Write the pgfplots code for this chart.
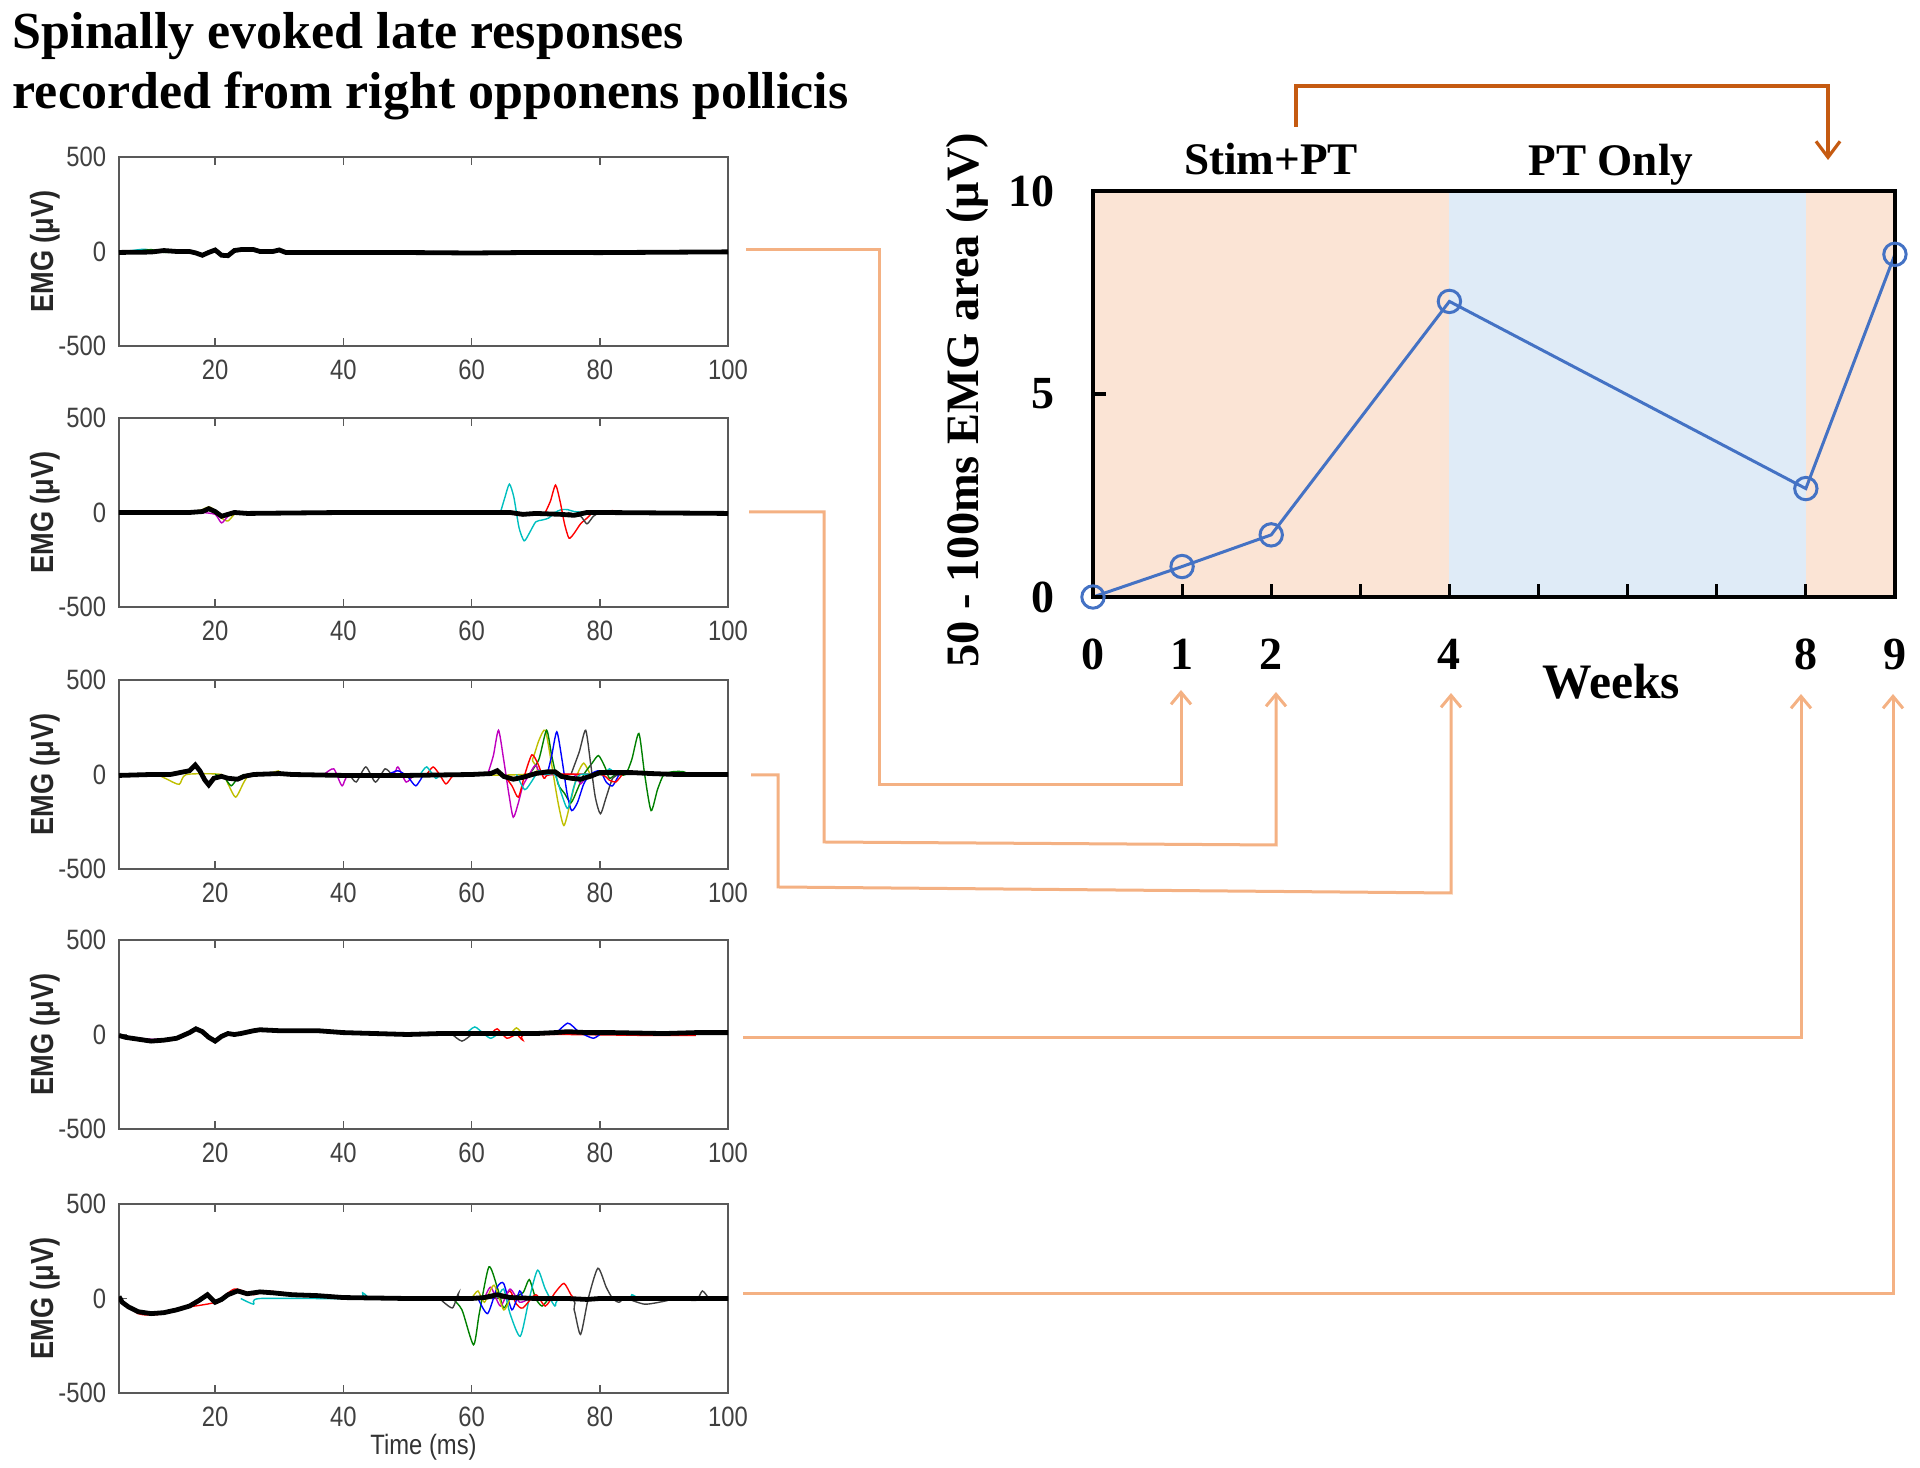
\documentclass[border=0pt]{standalone}
\usepackage{pgfplots}
\pgfplotsset{compat=1.18}
\usepackage{fontspec}
\setmainfont{Liberation Serif}
\newfontfamily\arialf{Liberation Sans}
\newfontfamily\arialn[FakeStretch=0.85]{Liberation Sans}
\usetikzlibrary{arrows.meta}
\definecolor{peach}{HTML}{FBE4D5}
\definecolor{paleblue}{HTML}{DFEBF7}
\definecolor{linkor}{HTML}{F4B183}
\definecolor{darkor}{HTML}{C55A11}
\definecolor{lineblue}{HTML}{4472C4}
\definecolor{mcyan}{rgb}{0,0.75,0.75}
\definecolor{mmag}{rgb}{0.75,0,0.75}
\definecolor{myel}{rgb}{0.75,0.75,0}
\definecolor{mgreen}{rgb}{0,0.5,0}
\definecolor{mgray}{rgb}{0.25,0.25,0.25}
\definecolor{mblue}{rgb}{0,0,1}
\definecolor{mred}{rgb}{1,0,0}
\pgfplotsset{
  emg/.style={
    scale only axis, width=152.25pt, height=47.25pt, anchor=south west,
    xmin=5, xmax=100, ymin=-500, ymax=500,
    xtick={20,40,60,80,100}, xticklabels={20,40,60,80,100},
    ytick={-500,0,500}, yticklabels={-500,0,500},
    tick align=inside, major tick length=2pt,
    ticklabel style={font=\arialn\fontsize{7}{7}\selectfont, text=black!75},
    xticklabel style={yshift=0pt},
    yticklabel style={xshift=0.3pt},
    axis line style={line width=0.5pt, black!65},
    every tick/.style={black!65, line width=0.4pt},
    ylabel={EMG (μV)},
    ylabel style={font=\arialn\bfseries\fontsize{8}{8}\selectfont, text=black!85, at={(rel axis cs:-0.1215,0.5)}, anchor=center},
  },
  tr/.style={line width=0.35pt, no marks, smooth, tension=0.4},
  mean/.style={line width=1.2pt, black, no marks},
}
\begin{document}
\begin{tikzpicture}
\useasboundingbox (0,0) rectangle (480pt,367pt);

% ---------- Panel 1 ----------
\begin{axis}[emg, at={(29.75pt,280.5pt)}]
\addplot[tr, mcyan] coordinates {(5,0)(7,5)(9,12)(11,0)(13,3)};
\addplot[tr, mmag] coordinates {(54,0)(56,-12)(58,0)};
\addplot[tr, mgreen] coordinates {(8,0)(10,10)(12,-5)(14,0)};
\addplot[mean] coordinates {(5,-5)(10,-3)(12,5)(14,0)(16,0)(17,-8)(18,-20)(19,-5)(20,8)(21,-20)(22,-22)(23,5)(24,10)(26,10)(27,0)(29,0)(30,8)(31,-5)(35,-5)(45,-5)(52,-6)(60,-8)(70,-5)(80,-6)(90,-4)(100,-2)};
\end{axis}

% ---------- Panel 2 ----------
\begin{axis}[emg, at={(29.75pt,215.25pt)}]
\addplot[tr, myel] coordinates {(16,0)(18,15)(19,30)(20,10)(21,-30)(22,-45)(23,-10)(24,0)};
\addplot[tr, mmag] coordinates {(18,0)(20,-10)(21,-55)(22,-20)(23,0)};
\addplot[tr, mcyan] coordinates {(64.5,0)(65.2,80)(65.9,150)(66.6,80)(67.4,-80)(68.2,-150)(69,-110)(70,-50)(71,-40)(72,-30)(73,0)(74,15)(75,15)(76,5)(78,0)};
\addplot[tr, mred] coordinates {(71.5,0)(72.3,60)(73.1,145)(73.8,60)(74.5,-60)(75.2,-136)(76,-110)(77,-60)(78,-30)(79,0)(81,5)(82,10)(83,0)};
\addplot[tr, mgray] coordinates {(75,0)(77,-20)(78,-60)(79,-20)(80,0)};
\addplot[mean] coordinates {(5,0)(16,0)(18,5)(19,20)(20,5)(21,-20)(22,-10)(23,0)(25,-5)(40,0)(60,0)(66,0)(68,-10)(70,-5)(74,-10)(76,-15)(78,0)(80,0)(100,-5)};
\end{axis}

% ---------- Panel 3 ----------
\begin{axis}[emg, at={(29.75pt,149.75pt)}]
\addplot[tr, myel] coordinates {(11,0)(12.5,-25)(14.4,-52)(15.5,0)(21,0)(22,-50)(23.2,-120)(24.5,-40)(25.5,0)(29,0)(30,20)(31,0)(68,0)(69.5,80)(70.5,180)(71.5,234)(72.5,50)(73.5,-150)(74.4,-270)(75.4,-150)(76.5,0)(77.5,60)(78.5,0)};
\addplot[tr, mgreen] coordinates {(20,0)(21.5,-20)(22.5,-60)(23.5,-20)(24.5,0)};
\addplot[tr, mgreen] coordinates {(69,0)(70.5,80)(71.7,234)(72.5,100)(73.5,-50)(74.5,-100)(75.5,-150)(76.5,-80)(77.5,0)(78.8,60)(79.8,100)(80.8,40)(81.5,-20)(82.5,0)(84,0)(85,80)(86.1,217)(87,0)(88,-191)(89,-80)(90,0)(91.5,15)(93,15)(94,0)};
\addplot[tr, mmag] coordinates {(37,0)(38.5,30)(39.8,-60)(41,0)(47.5,0)(48.5,40)(49.8,-40)(51,0)};
\addplot[tr, mmag] coordinates {(62.5,0)(63.4,100)(64.2,234)(65,80)(65.8,-100)(66.5,-226)(67.3,-150)(68,-60)(69,0)(70,50)(71,0)(76,0)(77,-50)(78,0)};
\addplot[tr, mgray] coordinates {(41,0)(42,-40)(43.5,40)(45,-40)(46.5,30)(47.5,0)};
\addplot[tr, mgray] coordinates {(75.5,0)(76.8,120)(77.8,234)(78.6,50)(79.3,-120)(80.1,-208)(81,-120)(82,-20)(83,0)(84,10)(86,10)(88,0)};
\addplot[tr, mblue] coordinates {(47,0)(48.5,20)(50,-10)(51.3,-60)(52.5,0)};
\addplot[tr, mblue] coordinates {(71.8,0)(72.5,100)(73.3,226)(74.1,80)(74.9,-100)(75.6,-191)(76.5,-150)(77.5,-50)(78.5,0)(80,20)(81,-40)(82,-60)(83,0)};
\addplot[tr, mred] coordinates {(53,0)(54,40)(55,0)(56,-50)(57,-10)(58,0)};
\addplot[tr, mred] coordinates {(65,0)(66.3,-60)(67.3,-120)(68.3,0)(69.4,104)(70.3,60)(71.3,-20)(72.3,0)(80,0)(81.5,-30)(82.5,-40)(83.5,0)};
\addplot[tr, mcyan] coordinates {(52,0)(53,40)(54.4,-20)(55,0)};
\addplot[tr, mcyan] coordinates {(67,0)(68.3,-80)(69.5,-30)(70.5,20)(71.5,0)(73,0)(74,-100)(75,-180)(76,-60)(77,0)(80.5,0)(81.5,30)(82.5,0)};
\addplot[mean] coordinates {(5,-5)(10,0)(13,0)(16,20)(16.9,50)(17.6,20)(18.4,-30)(19,-55)(19.8,-20)(21,-10)(22,-20)(23.5,-25)(24.5,-10)(26,0)(30,5)(32,0)(40,-5)(50,-5)(60,0)(63,5)(64,20)(65,-10)(66.5,-25)(68,-15)(70,5)(72,15)(73,15)(74,-10)(75.5,-20)(77,-25)(78.5,-10)(80,10)(82,10)(85,10)(88,5)(92,0)(100,0)};
\end{axis}

% ---------- Panel 4 ----------
\begin{axis}[emg, at={(29.75pt,84.75pt)}]
\addplot[tr, mmag] coordinates {(5,-10)(10,-25)(14,-20)};
\addplot[tr, mcyan] coordinates {(59,0)(60.5,40)(62,0)(63,-20)(64,0)};
\addplot[tr, mred] coordinates {(63,0)(64,30)(65.5,-20)(67,0)(68,-30)(69,0)(88,-5)(95,-5)};
\addplot[tr, mgray] coordinates {(57,0)(58.5,-35)(60,0)};
\addplot[tr, myel] coordinates {(66,0)(67,35)(68,0)};
\addplot[tr, mblue] coordinates {(73,0)(75,60)(76.5,20)(77.5,0)(79,-20)(80,0)};
\addplot[mean] coordinates {(5,-5)(6,-15)(8,-25)(10,-35)(12,-30)(14,-20)(15,-5)(16,10)(17,30)(18,15)(19,-15)(20,-35)(21,-10)(22,5)(23,0)(24,5)(26,20)(27,25)(30,20)(36,20)(40,10)(45,5)(50,0)(55,5)(60,5)(65,5)(70,5)(73,10)(75,15)(78,10)(82,10)(90,5)(95,10)(100,10)};
\end{axis}

% ---------- Panel 5 ----------
\begin{axis}[emg, at={(29.75pt,18.75pt)}, xlabel={Time (ms)},
  xlabel style={font=\arialn\fontsize{7}{7}\selectfont, text=black!80, at={(rel axis cs:0.5,-0.286)}, anchor=center}]
\addplot[tr, mred] coordinates {(5,0)(8,-80)(11,-85)(15,-50)(20,-20)(23,50)(26,20)(28,40)(33,20)};
\addplot[tr, mgreen] coordinates {(57,0)(58.5,-60)(60.3,-245)(61.2,-80)(62.7,167)(64,60)(65,-50)(66,0)(68,30)(69,100)(70,0)(71,-40)(72,0)};
\addplot[tr, mcyan] coordinates {(24,0)(26,-30)(27,0)(42,0)(43,30)(44,0)};
\addplot[tr, mcyan] coordinates {(64,0)(65,50)(66,-80)(67.6,-200)(69,0)(70.3,150)(71.5,50)(73,-40)(74,0)(84,0)(85,20)(86,0)};
\addplot[tr, mgray] coordinates {(55,0)(57,-50)(58,30)(59,0)(75,0)(76,-60)(77,-190)(78.2,0)(79.7,160)(81,60)(82,0)(83,-20)(84,0)(87,-30)(90,-15)(92,0)(95,-10)(96,40)(97,0)};
\addplot[tr, mred] coordinates {(65,0)(66,40)(67,-30)(68,-50)(70,20)(71.5,-40)(73,30)(74.4,80)(75.5,20)(76,0)};
\addplot[tr, mblue] coordinates {(61,0)(62.5,-80)(64,60)(65,80)(66.3,-60)(67.5,40)(68,0)};
\addplot[tr, mmag] coordinates {(62,0)(63,60)(64.5,-40)(66,50)(67.5,-20)(69,0)};
\addplot[tr, myel] coordinates {(60,0)(61,40)(62,-20)(63.5,70)(65,-60)(66,0)};
\addplot[mean] coordinates {(5,10)(5.5,-20)(6.5,-45)(8,-70)(10,-80)(12,-75)(14,-60)(16,-40)(17.5,-10)(18.8,20)(20,-20)(21,-5)(22,20)(23.5,40)(25,25)(27,35)(29,30)(32,20)(36,15)(40,5)(50,0)(55,0)(60,0)(62,5)(64,20)(66,5)(70,0)(75,0)(78,-5)(80,0)(90,0)(100,0)};
\end{axis}

% ---------- Right chart ----------
\begin{axis}[at={(273.25pt,217.75pt)}, anchor=south west, scale only axis,
  width=200.5pt, height=101.5pt,
  xmin=0, xmax=9, ymin=0, ymax=10,
  xtick={0,1,2,3,4,5,6,7,8,9}, xticklabels={0,1,2,,4,,,,8,9},
  ytick={0,5,10}, yticklabels={0,5,10},
  tick align=inside, xtick pos=bottom, ytick pos=left, major tick length=3.2pt,
  axis line style={line width=0.8pt}, every tick/.style={line width=0.8pt, black},
  axis on top, clip=false,
  ticklabel style={font=\bfseries\fontsize{11.5}{12}\selectfont},
  xticklabel style={yshift=-7pt}, yticklabel style={xshift=-6pt},
  xlabel={Weeks},
  xlabel style={at={(rel axis cs:0.646,-0.209)}, anchor=center, font=\bfseries\fontsize{12.4}{13}\selectfont},
  ylabel={50 - 100ms EMG area (μV)},
  ylabel style={at={(rel axis cs:-0.157,0.485)}, anchor=center, font=\bfseries\fontsize{11.6}{12}\selectfont},
]
\fill[peach] (axis cs:0,0) rectangle (axis cs:4,10);
\fill[paleblue] (axis cs:4,0) rectangle (axis cs:8,10);
\fill[peach] (axis cs:8,0) rectangle (axis cs:9,10);
\addplot[lineblue, line width=0.75pt, mark=o, mark size=2.8pt, mark options={lineblue, line width=0.75pt}]
  coordinates {(0,0)(1,0.75)(2,1.53)(4,7.28)(8,2.67)(9,8.44)};
\end{axis}

% ---------- Text and connectors ----------
\begin{scope}[x=0.25pt, y=-0.25pt, shift={(0pt,367pt)}]
\node[anchor=base west, inner sep=0, font=\bfseries\fontsize{13}{14}\selectfont] at (12,49) {Spinally evoked late responses};
\node[anchor=base west, inner sep=0, font=\bfseries\fontsize{13}{14}\selectfont] at (12,109) {recorded from right opponens pollicis};
\node[anchor=base, inner sep=0, font=\bfseries\fontsize{11.3}{12}\selectfont] at (1271,175) {Stim+PT};
\node[anchor=base, inner sep=0, font=\bfseries\fontsize{11.3}{12}\selectfont] at (1611,176) {PT Only};
\begin{scope}[linkor, line width=0.75pt, -{Straight Barb[length=3pt,width=5pt]}]
\draw (746,250) -- (879,250) -- (879,785) -- (1181,785) -- (1181,690);
\draw (749,512) -- (824,512) -- (824,842) -- (1276,845) -- (1276,692);
\draw (751,775) -- (778,775) -- (778,887) -- (1451,893) -- (1451,693);
\draw (743,1038) -- (1801,1038) -- (1801,694);
\draw (743,1294) -- (1893,1294) -- (1893,694);
\end{scope}
\draw[darkor, line width=0.8pt, -{Straight Barb[length=4pt,width=6pt]}] (1296,127) -- (1296,86) -- (1828,86) -- (1828,160);
\end{scope}
\end{tikzpicture}
\end{document}
